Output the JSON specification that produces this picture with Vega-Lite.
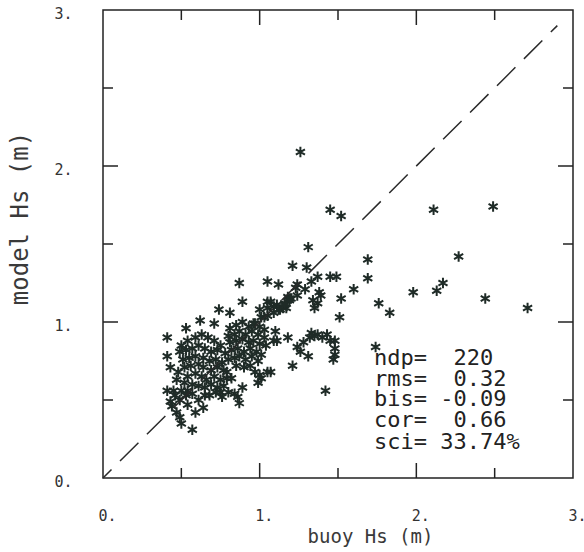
{
  "$schema": "https://vega.github.io/schema/vega-lite/v6.json",
  "width": 470,
  "height": 468,
  "autosize": "none",
  "padding": {"left": 103, "top": 10, "right": 11, "bottom": 74},
  "background": "white",
  "config": {
    "view": {"stroke": "#222", "strokeWidth": 1.5},
    "axis": {"domain": false, "grid": false, "ticks": false, "labelFont": "DejaVu Sans Mono", "labelFontSize": 15, "labelColor": "#333", "titleFont": "DejaVu Sans Mono", "titleFontWeight": "normal", "titleColor": "#3a3a3a"}
  },
  "datasets": {
    "pts": [
      {"buoy":1.26,"model":2.09},{"buoy":1.45,"model":1.72},{"buoy":1.52,"model":1.68},{"buoy":2.11,"model":1.72},{"buoy":2.49,"model":1.74},
      {"buoy":1.31,"model":1.48},{"buoy":1.69,"model":1.40},{"buoy":2.27,"model":1.42},{"buoy":1.69,"model":1.28},{"buoy":2.17,"model":1.25},
      {"buoy":2.13,"model":1.20},{"buoy":1.98,"model":1.19},{"buoy":1.60,"model":1.21},{"buoy":1.52,"model":1.15},{"buoy":1.76,"model":1.12},
      {"buoy":1.83,"model":1.06},{"buoy":2.44,"model":1.15},{"buoy":2.71,"model":1.09},{"buoy":1.51,"model":1.03},{"buoy":1.21,"model":1.36},
      {"buoy":1.30,"model":1.35},{"buoy":1.37,"model":1.29},{"buoy":1.45,"model":1.29},{"buoy":1.49,"model":1.29},{"buoy":1.33,"model":1.26},
      {"buoy":1.38,"model":1.19},{"buoy":1.23,"model":1.22},{"buoy":1.18,"model":1.16},{"buoy":1.37,"model":1.12},{"buoy":1.35,"model":1.09},
      {"buoy":1.17,"model":1.09},{"buoy":1.13,"model":1.08},{"buoy":1.74,"model":0.84},{"buoy":1.42,"model":0.56},{"buoy":1.05,"model":1.26},
      {"buoy":1.12,"model":1.24},{"buoy":1.07,"model":1.13},{"buoy":1.09,"model":1.10},{"buoy":1.15,"model":1.09},{"buoy":1.00,"model":1.08},
      {"buoy":0.97,"model":0.99},{"buoy":1.10,"model":0.94},{"buoy":1.09,"model":0.88},{"buoy":1.18,"model":0.90},{"buoy":1.33,"model":0.93},
      {"buoy":1.40,"model":0.90},{"buoy":1.35,"model":0.91},{"buoy":1.43,"model":0.92},{"buoy":1.48,"model":0.88},{"buoy":1.28,"model":0.87},
      {"buoy":1.24,"model":0.84},{"buoy":1.26,"model":0.81},{"buoy":1.48,"model":0.83},{"buoy":1.48,"model":0.79},{"buoy":1.47,"model":0.76},
      {"buoy":1.31,"model":0.78},{"buoy":1.21,"model":0.72},{"buoy":1.07,"model":0.68},{"buoy":0.99,"model":0.61},{"buoy":1.00,"model":0.66},
      {"buoy":0.87,"model":1.25},{"buoy":0.89,"model":1.13},{"buoy":0.74,"model":1.08},{"buoy":0.81,"model":1.06},{"buoy":0.62,"model":1.01},
      {"buoy":0.71,"model":0.99},{"buoy":0.53,"model":0.96},{"buoy":0.41,"model":0.90},{"buoy":1.03,"model":1.03},{"buoy":0.41,"model":0.78},
      {"buoy":0.43,"model":0.71},{"buoy":0.45,"model":0.56},{"buoy":0.44,"model":0.46},{"buoy":0.47,"model":0.42},{"buoy":0.49,"model":0.39},
      {"buoy":0.50,"model":0.35},{"buoy":0.57,"model":0.31},{"buoy":0.65,"model":0.53},{"buoy":0.57,"model":0.54},{"buoy":0.54,"model":0.56},
      {"buoy":0.75,"model":0.55},{"buoy":0.89,"model":0.58},{"buoy":0.86,"model":0.52},{"buoy":0.87,"model":0.48},{"buoy":0.84,"model":0.54},
      {"buoy":1.01,"model":0.64},{"buoy":1.05,"model":0.68},{"buoy":0.41,"model":0.56},{"buoy":1.34,"model":1.14},{"buoy":1.39,"model":1.17},
      {"buoy":1.29,"model":1.21},{"buoy":1.24,"model":1.17},{"buoy":1.19,"model":1.14},{"buoy":1.16,"model":1.11},{"buoy":1.32,"model":0.90},
      {"buoy":1.37,"model":0.92},{"buoy":1.45,"model":0.88},{"buoy":1.11,"model":0.88},{"buoy":1.05,"model":1.13},{"buoy":1.11,"model":1.11},
      {"buoy":1.19,"model":1.15},{"buoy":1.24,"model":1.24},{"buoy":1.05,"model":1.09},
      {"buoy":0.50,"model":0.85},{"buoy":0.54,"model":0.88},{"buoy":0.59,"model":0.90},{"buoy":0.63,"model":0.92},{"buoy":0.67,"model":0.90},
      {"buoy":0.71,"model":0.88},{"buoy":0.75,"model":0.85},{"buoy":0.49,"model":0.81},{"buoy":0.53,"model":0.82},{"buoy":0.57,"model":0.83},
      {"buoy":0.61,"model":0.85},{"buoy":0.65,"model":0.83},{"buoy":0.69,"model":0.81},{"buoy":0.73,"model":0.82},{"buoy":0.78,"model":0.80},
      {"buoy":0.51,"model":0.76},{"buoy":0.55,"model":0.77},{"buoy":0.59,"model":0.78},{"buoy":0.64,"model":0.77},{"buoy":0.68,"model":0.75},
      {"buoy":0.72,"model":0.76},{"buoy":0.76,"model":0.74},{"buoy":0.52,"model":0.71},{"buoy":0.56,"model":0.72},{"buoy":0.61,"model":0.73},
      {"buoy":0.64,"model":0.71},{"buoy":0.69,"model":0.69},{"buoy":0.73,"model":0.71},{"buoy":0.77,"model":0.69},{"buoy":0.54,"model":0.65},
      {"buoy":0.59,"model":0.67},{"buoy":0.63,"model":0.65},{"buoy":0.66,"model":0.63},{"buoy":0.71,"model":0.65},{"buoy":0.75,"model":0.63},
      {"buoy":0.79,"model":0.64},{"buoy":0.57,"model":0.60},{"buoy":0.61,"model":0.59},{"buoy":0.65,"model":0.58},{"buoy":0.69,"model":0.60},
      {"buoy":0.73,"model":0.58},{"buoy":0.77,"model":0.59},{"buoy":0.68,"model":0.53},{"buoy":0.72,"model":0.55},{"buoy":0.76,"model":0.52},
      {"buoy":0.80,"model":0.55},{"buoy":0.48,"model":0.68},{"buoy":0.47,"model":0.63},{"buoy":0.52,"model":0.61},{"buoy":0.50,"model":0.56},
      {"buoy":0.53,"model":0.53},{"buoy":0.49,"model":0.50},
      {"buoy":0.81,"model":0.96},{"buoy":0.85,"model":0.98},{"buoy":0.89,"model":1.00},{"buoy":0.93,"model":0.97},{"buoy":0.96,"model":0.99},
      {"buoy":1.00,"model":0.97},{"buoy":1.03,"model":0.95},{"buoy":0.80,"model":0.91},{"buoy":0.84,"model":0.92},{"buoy":0.87,"model":0.94},
      {"buoy":0.91,"model":0.92},{"buoy":0.95,"model":0.94},{"buoy":0.99,"model":0.92},{"buoy":1.03,"model":0.90},{"buoy":0.81,"model":0.87},
      {"buoy":0.85,"model":0.88},{"buoy":0.89,"model":0.89},{"buoy":0.93,"model":0.87},{"buoy":0.96,"model":0.88},{"buoy":1.00,"model":0.86},
      {"buoy":1.04,"model":0.85},{"buoy":0.82,"model":0.82},{"buoy":0.86,"model":0.83},{"buoy":0.90,"model":0.81},{"buoy":0.94,"model":0.83},
      {"buoy":0.98,"model":0.81},{"buoy":1.01,"model":0.79},{"buoy":0.84,"model":0.77},{"buoy":0.87,"model":0.78},{"buoy":0.91,"model":0.76},
      {"buoy":0.95,"model":0.78},{"buoy":0.99,"model":0.75},{"buoy":0.85,"model":0.72},{"buoy":0.90,"model":0.71},{"buoy":0.94,"model":0.72},
      {"buoy":0.97,"model":0.68},{"buoy":0.80,"model":0.76},{"buoy":0.79,"model":0.68},{"buoy":0.82,"model":0.64},
      {"buoy":1.01,"model":1.03},{"buoy":1.05,"model":1.04},{"buoy":1.09,"model":1.06},{"buoy":1.12,"model":1.08},{"buoy":1.16,"model":1.12},
      {"buoy":1.20,"model":1.15},
      {"buoy":0.46,"model":0.53},{"buoy":0.43,"model":0.49},{"buoy":0.54,"model":0.47},{"buoy":0.61,"model":0.50},{"buoy":0.64,"model":0.45},
      {"buoy":0.59,"model":0.42}
    ],
    "diag": [{"x0": 0, "y0": 0, "x1": 2.9, "y1": 2.9}],
    "major": [{"v": 1}, {"v": 2}],
    "minor": [{"v": 0.5}, {"v": 1.5}, {"v": 2.5}],
    "stats": [
      {"label": "ndp=\u00a0\u00a0220", "sx": 1.73, "sy": 0.77},
      {"label": "rms=\u00a0\u00a00.32", "sx": 1.73, "sy": 0.635},
      {"label": "bis=\u00a0-0.09", "sx": 1.73, "sy": 0.505},
      {"label": "cor=\u00a0\u00a00.66", "sx": 1.73, "sy": 0.37},
      {"label": "sci=\u00a033.74%", "sx": 1.73, "sy": 0.23}
    ]
  },
  "layer": [
    {
      "data": {"name": "pts"},
      "mark": {"type": "point", "shape": "M0,-1L0,1M-0.87,-0.5L0.87,0.5M-0.87,0.5L0.87,-0.5", "filled": false, "size": 110, "strokeWidth": 2, "color": "#1f2b27", "opacity": 1},
      "encoding": {
        "x": {"field": "buoy", "type": "quantitative", "scale": {"domain": [0, 3], "nice": false, "zero": false},
          "axis": {"orient": "bottom", "values": [0, 1, 2, 3],
            "labelExpr": "datum.value + '.'",
            "labelPadding": 30, "labelAlign": "left", "labelOffset": -5, "labelBaseline": "top",
            "title": "buoy Hs (m)", "titleFontSize": 19, "titleX": 267, "titleY": 64, "titleAlign": "center", "titleBaseline": "alphabetic"}},
        "y": {"field": "model", "type": "quantitative", "scale": {"domain": [0, 3], "nice": false, "zero": false},
          "axis": {"orient": "left", "values": [0, 1, 2, 3],
            "labelExpr": "datum.value + '.'",
            "labelPadding": 31, "labelAlign": "right", "labelBaseline": "middle", "labelOffset": 3,
            "title": "model  Hs (m)", "titleFontSize": 24, "titleX": -76, "titleY": 208, "titleAlign": "center", "titleBaseline": "alphabetic", "titleAngle": -90}}
      }
    },
    {
      "data": {"name": "diag"},
      "mark": {"type": "rule", "strokeDash": [26, 12], "strokeDashOffset": 14, "strokeWidth": 1.5, "color": "#2a2a2a"},
      "encoding": {
        "x": {"field": "x0", "type": "quantitative", "axis": null},
        "y": {"field": "y0", "type": "quantitative", "axis": null},
        "x2": {"field": "x1"},
        "y2": {"field": "y1"}
      }
    },
    {
      "data": {"name": "major"},
      "mark": {"type": "rule", "strokeWidth": 1.5, "color": "#222"},
      "encoding": {"x": {"field": "v", "type": "quantitative", "axis": null}, "y": {"datum": 0, "type": "quantitative", "axis": null}, "y2": {"datum": 0.096}}
    },
    {
      "data": {"name": "major"},
      "mark": {"type": "rule", "strokeWidth": 1.5, "color": "#222"},
      "encoding": {"x": {"field": "v", "type": "quantitative", "axis": null}, "y": {"datum": 3, "type": "quantitative", "axis": null}, "y2": {"datum": 2.904}}
    },
    {
      "data": {"name": "major"},
      "mark": {"type": "rule", "strokeWidth": 1.5, "color": "#222"},
      "encoding": {"y": {"field": "v", "type": "quantitative", "axis": null}, "x": {"datum": 0, "type": "quantitative", "axis": null}, "x2": {"datum": 0.096}}
    },
    {
      "data": {"name": "major"},
      "mark": {"type": "rule", "strokeWidth": 1.5, "color": "#222"},
      "encoding": {"y": {"field": "v", "type": "quantitative", "axis": null}, "x": {"datum": 3, "type": "quantitative", "axis": null}, "x2": {"datum": 2.904}}
    },
    {
      "data": {"name": "minor"},
      "mark": {"type": "rule", "strokeWidth": 1.5, "color": "#222"},
      "encoding": {"x": {"field": "v", "type": "quantitative", "axis": null}, "y": {"datum": 0, "type": "quantitative", "axis": null}, "y2": {"datum": 0.064}}
    },
    {
      "data": {"name": "minor"},
      "mark": {"type": "rule", "strokeWidth": 1.5, "color": "#222"},
      "encoding": {"x": {"field": "v", "type": "quantitative", "axis": null}, "y": {"datum": 3, "type": "quantitative", "axis": null}, "y2": {"datum": 2.936}}
    },
    {
      "data": {"name": "minor"},
      "mark": {"type": "rule", "strokeWidth": 1.5, "color": "#222"},
      "encoding": {"y": {"field": "v", "type": "quantitative", "axis": null}, "x": {"datum": 0, "type": "quantitative", "axis": null}, "x2": {"datum": 0.064}}
    },
    {
      "data": {"name": "minor"},
      "mark": {"type": "rule", "strokeWidth": 1.5, "color": "#222"},
      "encoding": {"y": {"field": "v", "type": "quantitative", "axis": null}, "x": {"datum": 3, "type": "quantitative", "axis": null}, "x2": {"datum": 2.936}}
    },
    {
      "data": {"name": "stats"},
      "mark": {"type": "text", "align": "left", "baseline": "middle", "font": "DejaVu Sans Mono", "fontSize": 22, "color": "#222"},
      "encoding": {
        "x": {"field": "sx", "type": "quantitative", "axis": null},
        "y": {"field": "sy", "type": "quantitative", "axis": null},
        "text": {"field": "label"}
      }
    }
  ],
  "resolve": {"axis": {"x": "independent", "y": "independent"}}
}
